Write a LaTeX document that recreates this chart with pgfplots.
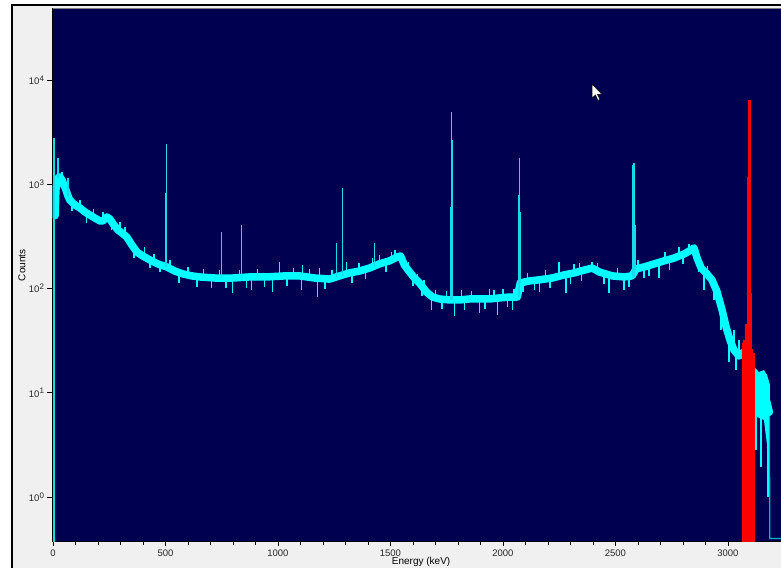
\documentclass[border=0pt]{standalone}
\usepackage{fontspec}
\setmainfont{Liberation Sans}
\usepackage{pgfplots}
\pgfplotsset{compat=1.18}
\definecolor{navybg}{RGB}{0,0,80}
\definecolor{band}{RGB}{0,255,255}
\definecolor{spk}{RGB}{20,220,235}
\definecolor{teal2}{RGB}{0,180,200}
\definecolor{framegray}{RGB}{240,240,240}
\newcommand{\dec}[1]{10\raisebox{3.2pt}{\fontsize{8}{8}\selectfont #1}}
\begin{document}
\begin{tikzpicture}
\useasboundingbox (0pt,0pt) rectangle (781pt,568pt);
\fill[white] (0pt,0pt) rectangle (781pt,568pt);
\fill[framegray] (12pt,0pt) rectangle (781pt,563pt);
\draw[black,line width=1.2pt] (12pt,0pt) -- (12pt,563pt) -- (781pt,563pt);
\begin{axis}[
  at={(52.5pt,27pt)}, anchor=south west,
  scale only axis, width=728.5pt, height=532.5pt,
  xmin=-2, xmax=3236, ymin=0.378, ymax=48500,
  ymode=log,
  axis background/.style={fill=navybg},
  axis line style={black,line width=0.8pt},
  tick align=outside, xtick pos=bottom, ytick pos=left,
  major tick length=5pt, minor tick length=4pt,
  tick style={black,line width=0.6pt},
  xtick={0,500,1000,1500,2000,2500,3000},
  xticklabels={0,500,1000,1500,2000,2500,3000},
  minor x tick num=4,
  ytick={1,10,100,1000,10000},
  yticklabels={\dec{0},\dec{1},\dec{2},\dec{3},\dec{4}},
  yminorticks=false,
  tick label style={font=\fontsize{9.5}{10}\selectfont, text=black!85},
  xlabel={Energy (keV)}, ylabel={Counts},
  label style={font=\fontsize{10}{11}\selectfont},
  xlabel style={at={(axis description cs:0.506,0)}, anchor=center, yshift=-21pt},
  ylabel style={at={(axis description cs:0,0.518)}, anchor=center, yshift=30.5pt},
  unbounded coords=jump,
]
% main continuum band
\addplot[band, line width=7.5pt, line join=round, line cap=round] coordinates {
(10,500) (13,881) (22,1148) (31,1175) (40,1099) (49,984) (58,881) (67,771) (75,706)
(98,632) (120,592) (142,542) (164,507) (186,474) (209,444) (222,444) (240,485) (253,464)
(271,406) (289,364) (306,341) (328,312) (351,261) (373,224) (399,205) (431,188) (466,172)
(506,161) (541,147) (577,138) (617,132) (652,129) (719,126) (799,126) (874,129) (950,129)
(1030,132) (1096,132) (1163,126) (1229,123) (1274,132) (1318,141) (1363,147) (1407,157)
(1451,172) (1496,184) (1531,201) (1545,205) (1562,168) (1585,144) (1607,126) (1629,113)
(1660,92.5) (1687,82.8) (1718,79.3) (1762,77.6) (1806,77.6) (1851,79.3) (1895,79.3)
(1940,79.3) (1984,81.1) (2028,82.8) (2064,82.8) (2077,113) (2117,118) (2162,121) (2219,126)
(2273,135) (2317,141) (2361,150) (2397,157) (2428,144) (2486,132) (2539,129) (2574,132)
(2592,154) (2628,161) (2672,172) (2716,184) (2761,196) (2805,214) (2836,234) (2849,245)
(2863,196) (2881,157) (2903,141) (2929,121) (2952,92.5) (2974,62.2) (2992,42.7) (3009,32.1)
(3027,25.7) (3049,22.5) (3071,24.6) (3094,20.6) (3116,12) (3138,10) (3160,9.5) (3174,8) (3184,6.5)
};
% wide noisy tail
\addplot[band, fill=band, draw=none] coordinates {
(3116,17.7) (3138,15.8) (3160,16.5) (3174,14.8) (3187,11.9)
(3187,2.83) (3174,3.15) (3160,5.48) (3138,5.73) (3116,6.12)
} -- cycle;
% jags of the noise band
\addplot[band, line width=1.5pt] coordinates {
(297,352) (297,432) (297,nan) (222,444) (222,542) (222,nan) (408,205) (408,250) (408,nan)
(1007,129) (1007,179) (1007,nan) (1110,132) (1110,168) (1110,nan) (1185,126) (1185,157) (1185,nan)
(1305,134) (1305,179) (1305,nan) (1451,172) (1451,210) (1451,nan) (1505,186) (1505,224) (1505,nan)
(1815,77.6) (1815,96.5) (1815,nan) (1940,79.3) (1940,99) (1940,nan) (2250,128) (2250,179) (2250,nan)
(2317,141) (2317,170) (2317,nan) (2397,157) (2397,179) (2397,nan) (2783,210) (2783,250) (2783,nan)
(2827,230) (2827,268) (2827,nan) (2992,42.7) (2992,55.7) (2992,nan) (3027,25.7) (3027,39.8) (3027,nan)
(3049,22.5) (3049,32.1) (3049,nan)
(431,188) (431,157) (431,nan) (475,170) (475,144) (475,nan) (705,126) (705,100) (705,nan)
(799,126) (799,90.6) (799,nan) (883,128) (883,96.5) (883,nan) (976,129) (976,92.5) (976,nan)
(1105,132) (1105,96.5) (1105,nan) (1176,126) (1176,82.8) (1176,nan) (1682,83) (1682,62) (1682,nan)
(1784,77.6) (1784,54.5) (1784,nan) (1895,79.3) (1895,58) (1895,nan) (1975,81) (1975,55.7) (1975,nan)
(2042,82.8) (2042,62) (2042,nan) (2162,121) (2162,92.5) (2162,nan) (2281,133) (2281,90.6) (2281,nan)
(2472,133) (2472,90.6) (2472,nan) (2539,129) (2539,96.5) (2539,nan) (2628,161) (2628,126) (2628,nan)
(2694,180) (2694,126) (2694,nan) (2894,150) (2894,96.5) (2894,nan) (2938,110) (2938,77.6) (2938,nan)
(2969,68) (2969,39.8) (2969,nan) (3005,34) (3005,19.7) (3005,nan) (3036,24) (3036,16.5) (3036,nan)
(3125,8) (3125,2.8) (3125,nan) (3147,8) (3147,1.94) (3147,nan) (3178,6) (3178,1.0) (3178,nan)
(40,1099) (40,1319) (40,nan) (85,690) (85,552) (85,nan) (120,592) (120,710) (120,nan)
(150,530) (150,425) (150,nan) (180,480) (180,575) (180,nan) (260,450) (260,360) (260,nan)
(320,320) (320,385) (320,nan) (360,245) (360,196) (360,nan) (450,180) (450,216) (450,nan)
(520,155) (520,186) (520,nan) (560,142) (560,114) (560,nan) (600,135) (600,162) (600,nan)
(640,130) (640,104) (640,nan) (670,128) (670,154) (670,nan) (740,126) (740,151) (740,nan)
(770,126) (770,101) (770,nan) (830,127) (830,152) (830,nan) (860,128) (860,102) (860,nan)
(910,129) (910,155) (910,nan) (940,129) (940,103) (940,nan) (1040,132) (1040,106) (1040,nan)
(1070,132) (1070,158) (1070,nan) (1140,129) (1140,155) (1140,nan) (1210,124) (1210,99) (1210,nan)
(1240,126) (1240,151) (1240,nan) (1330,143) (1330,114) (1330,nan) (1360,147) (1360,176) (1360,nan)
(1390,153) (1390,122) (1390,nan) (1420,162) (1420,194) (1420,nan) (1480,179) (1480,143) (1480,nan)
(1520,196) (1520,235) (1520,nan) (1580,149) (1580,179) (1580,nan) (1600,132) (1600,106) (1600,nan)
(1620,116) (1620,139) (1620,nan) (1640,105) (1640,84) (1640,nan) (1650,100) (1650,120) (1650,nan)
(1700,81) (1700,97) (1700,nan) (1730,79) (1730,63) (1730,nan) (1750,78) (1750,94) (1750,nan)
(1830,78) (1830,62) (1830,nan) (1860,79) (1860,95) (1860,nan) (1920,79) (1920,63) (1920,nan)
(1960,80) (1960,96) (1960,nan) (2000,82) (2000,98) (2000,nan) (2020,82) (2020,66) (2020,nan)
(2050,83) (2050,99) (2050,nan) (2090,115) (2090,92) (2090,nan) (2110,117) (2110,140) (2110,nan)
(2140,120) (2140,96) (2140,nan) (2190,124) (2190,149) (2190,nan) (2210,125) (2210,100) (2210,nan)
(2300,139) (2300,111) (2300,nan) (2340,145) (2340,174) (2340,nan) (2350,148) (2350,118) (2350,nan)
(2420,147) (2420,176) (2420,nan) (2450,138) (2450,110) (2450,nan) (2510,131) (2510,157) (2510,nan)
(2560,130) (2560,104) (2560,nan) (2600,156) (2600,187) (2600,nan) (2650,166) (2650,133) (2650,nan)
(2720,185) (2720,222) (2720,nan) (2740,190) (2740,152) (2740,nan) (2800,212) (2800,170) (2800,nan)
(2870,180) (2870,144) (2870,nan) (2910,137) (2910,164) (2910,nan) (2960,85) (2960,102) (2960,nan)
};
% tail drop to zero
\addplot[teal2, line width=1.2pt] coordinates {(3185,6) (3186,0.4) (3240,0.4)};
% photopeaks
\addplot[spk, line width=1.4pt] coordinates {
(4,0.3) (4,2770) (4,nan) (22,1148) (22,1786) (22,nan) (67,771) (67,1148) (67,nan)
(502,161) (502,824) (502,nan) (506,161) (506,2432) (506,nan)
(750,126) (750,348) (750,nan) (839,126) (839,406) (839,nan)
(1261,130) (1261,273) (1261,nan) (1287,132) (1287,920) (1287,nan) (1430,160) (1430,273) (1430,nan)
(1767,78) (1767,605) (1767,nan) (1771,78) (1771,4933) (1771,nan) (1773,78) (1773,2657) (1773,nan)
(2070,83) (2070,789) (2070,nan) (2073,83) (2073,1786) (2073,nan) (2077,113) (2077,542) (2077,nan)
(2579,130) (2579,1525) (2579,nan) (2583,130) (2583,1600) (2583,nan) (2588,150) (2588,406) (2588,nan)
};
% red region of interest
\addplot[const plot, fill=red, draw=red, line width=0.4pt] coordinates {
(3062,0.3) (3062,30) (3066,32) (3071,31) (3075,45) (3080,33) (3084,35)
(3087,1175) (3091,6420) (3100,90) (3103,26) (3107,24) (3111,24) (3116,24) (3116,0.3)
} -- cycle;
\end{axis}
\draw[gray,line width=1.5pt] (52.5pt,559.5pt) -- (781pt,559.5pt);
\filldraw[fill=white,draw=black,line width=0.5pt]
 (592pt,484pt) -- (592pt,470pt) -- (595.5pt,473pt) -- (598pt,467.5pt) -- (600pt,468.5pt)
 -- (597.5pt,473.5pt) -- (602pt,473.5pt) -- cycle;
\end{tikzpicture}
\end{document}
